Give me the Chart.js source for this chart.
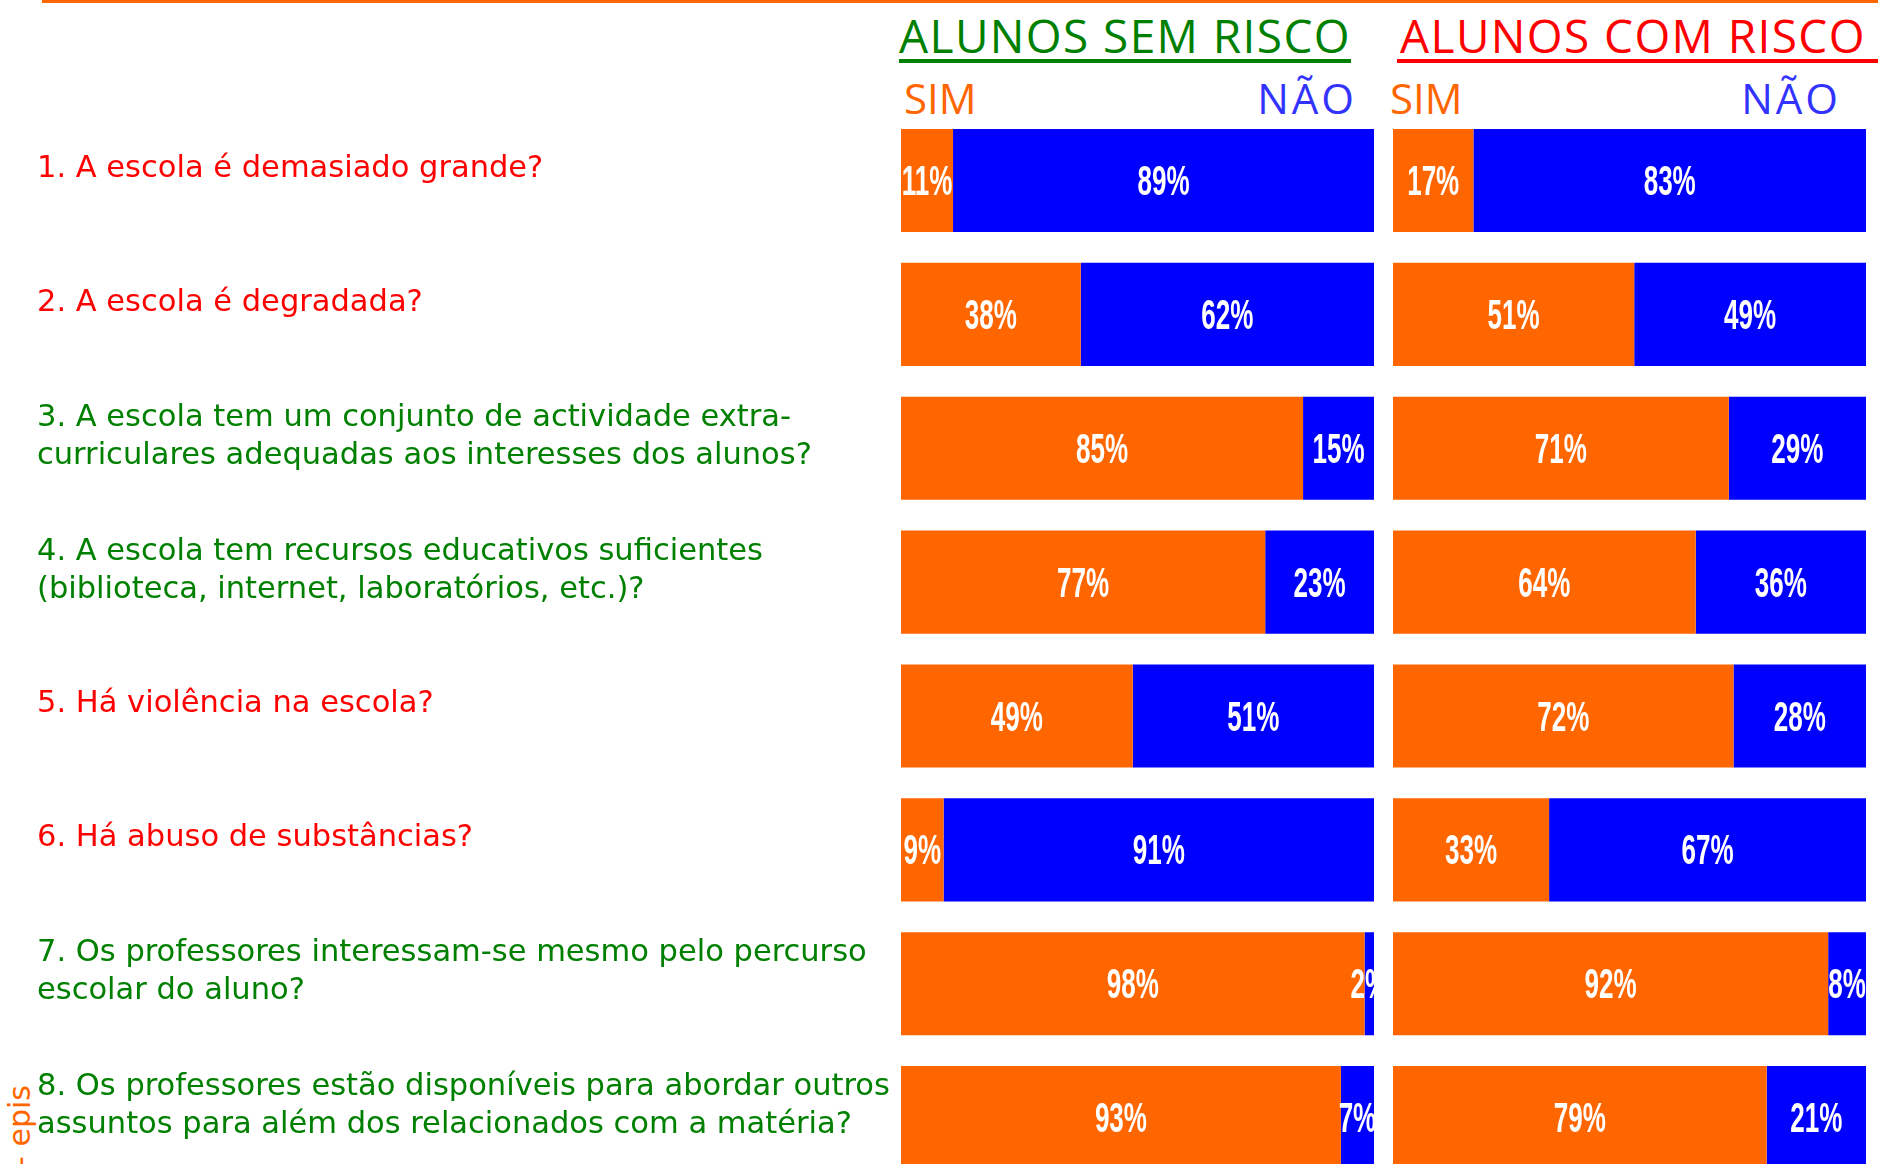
<!DOCTYPE html>
<html>
<head>
<meta charset="utf-8">
<script src="https://cdn.jsdelivr.net/npm/chart.js@4.4.1/dist/chart.umd.min.js"></script>
<style>
  html, body { margin: 0; padding: 0; background: #fff; }
  body { position: relative; width: 1878px; height: 1164px; overflow: hidden; font-family: "Open Sans", sans-serif; }
  .topline { position: absolute; left: 42px; top: 0; width: 1836px; height: 3px; background: #ff6600; }
  .title { position: absolute; top: 7px; font-size: 46px; line-height: 56px; letter-spacing: 1.4px; white-space: nowrap; }
  .uline { position: absolute; top: 59px; height: 4px; }
  .sub { position: absolute; top: 70px; font-size: 42px; line-height: 56px; white-space: nowrap; }
  .nao { letter-spacing: 3px; }
  .tag { position: absolute; left: -30px; top: 1109px; width: 100px; height: 34px; font-size: 30px; line-height: 34px;
         text-align: center; font-family: "DejaVu Sans", sans-serif; color: #ff6600; transform: rotate(-90deg); white-space: nowrap; }
  #wrapL { position: absolute; left: 0; top: 0; width: 1374px; height: 1200px; }
  #wrapR { position: absolute; left: 1393px; top: 0; width: 473px; height: 1200px; }
</style>
</head>
<body>
<div class="topline"></div>

<div class="title" style="left:899px; color:#008000;">ALUNOS SEM RISCO</div>
<div class="uline" style="left:899px; width:452px; background:#008000;"></div>
<div class="title" style="left:1400px; color:#ff0000;">ALUNOS COM RISCO</div>
<div class="uline" style="left:1397px; width:481px; background:#ff0000;"></div>

<div class="sub" style="left:904px; color:#ff6600;">SIM</div>
<div class="sub nao" style="right:521px; color:#3333ff;">NÃO</div>
<div class="sub" style="left:1390px; color:#ff6600;">SIM</div>
<div class="sub nao" style="right:37px; color:#3333ff;">NÃO</div>

<div class="tag">- epis</div>

<div id="wrapL"><canvas id="chartL"></canvas></div>
<div id="wrapR"><canvas id="chartR"></canvas></div>

<script>
  const QUESTIONS = [
    ["1. A escola é demasiado grande?"],
    ["2. A escola é degradada?"],
    ["3. A escola tem um conjunto de actividade extra-", "curriculares adequadas aos interesses dos alunos?"],
    ["4. A escola tem recursos educativos suficientes", "(biblioteca, internet, laboratórios, etc.)?"],
    ["5. Há violência na escola?"],
    ["6. Há abuso de substâncias?"],
    ["7. Os professores interessam-se mesmo pelo percurso", "escolar do aluno?"],
    ["8. Os professores estão disponíveis para abordar outros", "assuntos para além dos relacionados com a matéria?"],
  ];
  const QUESTION_COLORS = ["#ff0000", "#ff0000", "#008000", "#008000", "#ff0000", "#ff0000", "#008000", "#008000"];

  // alunos sem risco
  const SEM_SIM = [11, 38, 85, 77, 49, 9, 98, 93];
  const SEM_NAO = [89, 62, 15, 23, 51, 91, 2, 7];
  // alunos com risco
  const COM_SIM = [17, 51, 71, 64, 72, 33, 92, 79];
  const COM_NAO = [83, 49, 29, 36, 28, 67, 8, 21];

  const ORANGE = "#ff6600";
  const BLUE = "#0000ff";

  // white percentage labels drawn in the middle of each segment
  const pctLabels = {
    id: "pctLabels",
    afterDatasetsDraw(chart) {
      const ctx = chart.ctx;
      const area = chart.chartArea;
      ctx.save();
      ctx.beginPath();
      ctx.rect(area.left, area.top, area.right - area.left, area.bottom - area.top);
      ctx.clip();
      ctx.fillStyle = "#fff";
      ctx.textAlign = "center";
      ctx.textBaseline = "middle";
      ctx.font = "bold 42px 'Liberation Sans', Arial, sans-serif";
      chart.data.datasets.forEach((ds, di) => {
        const meta = chart.getDatasetMeta(di);
        meta.data.forEach((bar, i) => {
          const cx = (bar.x + bar.base) / 2;
          ctx.save();
          ctx.translate(cx, bar.y + 3);
          ctx.scale(0.62, 1);
          ctx.fillText(ds.data[i] + "%", 0, 0);
          ctx.restore();
        });
      });
      ctx.restore();
    },
  };

  function barConfig(sim, nao, withLabels) {
    const yAxis = {
      stacked: true,
      display: withLabels,
      grid: { display: false },
      border: { display: false },
      ticks: {
        crossAlign: "far",
        padding: 0,
        labelOffset: -11.5,
        color: (c) => QUESTION_COLORS[c.index],
        font: { family: "'DejaVu Sans', sans-serif", size: 30.5, lineHeight: 38 / 30.5 },
      },
    };
    if (withLabels) {
      // fixed label column, and no extra room for the tall first/last labels
      yAxis.afterFit = (scale) => {
        scale.width = 901 - 37;
        scale.paddingTop = 0;
        scale.paddingBottom = 0;
      };
    }
    return {
      type: "bar",
      data: {
        labels: QUESTIONS,
        datasets: [
          { label: "SIM", data: sim, backgroundColor: ORANGE, borderWidth: 0, barPercentage: 0.77, categoryPercentage: 1 },
          { label: "NÃO", data: nao, backgroundColor: BLUE, borderWidth: 0, barPercentage: 0.77, categoryPercentage: 1 },
        ],
      },
      options: {
        indexAxis: "y",
        responsive: true,
        maintainAspectRatio: false,
        animation: false,
        layout: { padding: { top: 113.6, bottom: 15.5, left: withLabels ? 37 : 0, right: 0 } },
        plugins: { legend: { display: false }, tooltip: { enabled: false }, title: { display: false } },
        scales: {
          x: { stacked: true, min: 0, max: 100, display: false },
          y: yAxis,
        },
      },
      plugins: [pctLabels],
    };
  }

  new Chart(document.getElementById("chartL"), barConfig(SEM_SIM, SEM_NAO, true));
  new Chart(document.getElementById("chartR"), barConfig(COM_SIM, COM_NAO, false));
</script>
</body>
</html>
